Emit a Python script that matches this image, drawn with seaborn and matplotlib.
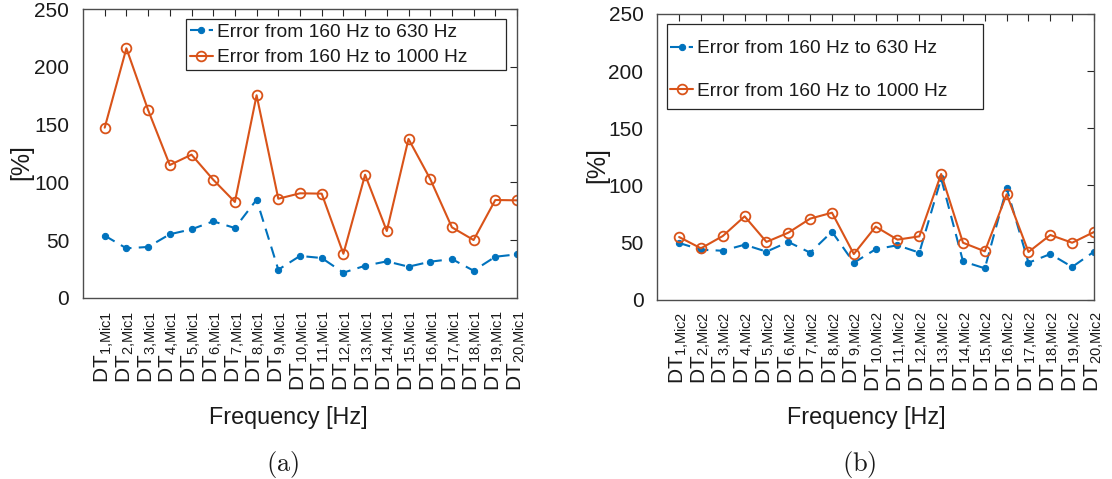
import numpy as np
import pandas as pd
import matplotlib
matplotlib.use("Agg")
import matplotlib.pyplot as plt
from matplotlib.patches import Rectangle
import seaborn as sns

# ---------------- data ----------------
positions = list(range(1, 21))
mic1_labels = [r"$\mathrm{DT}_{\mathrm{%d{,}Mic1}}$" % i for i in positions]
mic2_labels = [r"$\mathrm{DT}_{\mathrm{%d{,}Mic2}}$" % i for i in positions]

err630_mic1 = [53.8, 42.8, 44.0, 55.0, 59.3, 66.2, 60.4, 85.0, 24.3, 36.2,
               34.4, 21.7, 27.7, 31.5, 26.9, 31.2, 33.5, 23.4, 35.5, 37.6]
err1000_mic1 = [147.4, 216.2, 162.7, 115.0, 124.0, 102.3, 83.0, 175.5, 85.8, 90.5,
                90.2, 38.1, 106.6, 57.8, 137.6, 102.9, 61.0, 50.0, 84.7, 84.4]

err630_mic2 = [49.5, 43.6, 42.7, 48.0, 41.9, 50.4, 41.0, 59.4, 32.2, 44.0,
               47.5, 41.0, 106.0, 33.4, 27.3, 97.4, 32.2, 39.8, 28.5, 41.9]
err1000_mic2 = [54.7, 44.8, 55.6, 72.8, 50.4, 58.5, 70.8, 76.0, 39.8, 63.8,
                52.4, 55.3, 109.9, 49.7, 42.2, 92.1, 41.6, 56.5, 49.7, 59.1]

series_names = ["Error from 160 Hz to 630 Hz", "Error from 160 Hz to 1000 Hz"]
yticks = [0, 50, 100, 150, 200, 250]

# ---------------- style ----------------
sns.set_theme(style="white")
plt.rcParams["font.family"] = ["Liberation Sans", "DejaVu Sans"]
plt.rcParams["mathtext.fontset"] = "custom"
plt.rcParams["mathtext.rm"] = "Liberation Sans"
plt.rcParams["mathtext.it"] = "Liberation Sans:italic"
plt.rcParams["mathtext.bf"] = "Liberation Sans:bold"
plt.rcParams["mathtext.sf"] = "Liberation Sans"

BLUE = "#0072BD"
ORANGE = "#D95319"
AXC = "#262626"
TXT = "#1a1a1a"

W, H = 1112, 479
fig = plt.figure(figsize=(W / 100, H / 100), dpi=100)
ax_a = fig.add_axes([83 / W, (H - 297.7) / H, 434 / W, 288.4 / H])
ax_b = fig.add_axes([657.3 / W, (H - 299.5) / H, 436.7 / W, 285.5 / H])


def draw(ax, y630, y1000, labels, legend_kw, xlab_x, ylab_xy, caption, cap_x,
         frame_box=None):
    df = pd.DataFrame({
        "pos": positions * 2,
        "val": list(y630) + list(y1000),
        "series": [series_names[0]] * 20 + [series_names[1]] * 20,
    })
    d1 = df[df.series == series_names[0]]
    d2 = df[df.series == series_names[1]]
    sns.lineplot(data=d1, x="pos", y="val", ax=ax, color=BLUE, lw=1.5,
                 linestyle=(0, (5.5, 3.5)), marker="o", markersize=4.5,
                 markeredgecolor=BLUE, markerfacecolor=BLUE,
                 label=series_names[0])
    sns.lineplot(data=d2, x="pos", y="val", ax=ax, color=ORANGE, lw=1.5,
                 marker="o", markersize=7, markerfacecolor="none",
                 markeredgecolor=ORANGE, markeredgewidth=1.3,
                 label=series_names[1])
    ax.set_xlim(0, 20)
    ax.set_ylim(0, 250)
    ax.set_yticks(yticks)
    ax.set_yticklabels([str(v) for v in yticks])
    ax.set_xticks(positions)
    ax.set_xticklabels(labels, rotation=90, fontsize=15)
    ax.tick_params(axis="both", direction="in", length=5, width=0.8,
                   top=True, right=True, colors=AXC, labelsize=15,
                   labelcolor=TXT)
    ax.tick_params(axis="x", pad=9)
    ax.tick_params(axis="y", pad=10)
    for s in ax.spines.values():
        s.set_visible(True)
        s.set_color("#4d4d4d")
        s.set_linewidth(1.0)
    ax.set_xlabel("Frequency [Hz]", fontsize=16.8, color=TXT)
    ax.xaxis.set_label_coords(xlab_x, -0.415)
    ax.xaxis.label.set_va("center")
    ax.set_ylabel("[%]", fontsize=18, color=TXT)
    ax.yaxis.set_label_coords(*ylab_xy)
    ax.yaxis.label.set_va("center")
    kw = dict(fontsize=13.8, frameon=True, fancybox=False,
              edgecolor=AXC, framealpha=1, handlelength=1.2,
              handletextpad=0.2, borderpad=0.2, borderaxespad=0,
              loc="upper left")
    kw.update(legend_kw)
    leg = ax.legend(**kw)
    leg.get_frame().set_linewidth(0.9)
    for t in leg.get_texts():
        t.set_color(TXT)
    if frame_box is not None:
        x0, y0, w, h = frame_box
        ax.add_patch(Rectangle((x0, y0), w, h, transform=ax.transAxes,
                               facecolor="white", edgecolor=AXC, lw=0.9,
                               zorder=4.9, clip_on=False))
    fig.text(cap_x / W, 1 - 464 / H, r"$\mathrm{(%s)}$" % caption,
             fontsize=19, ha="center", va="center", math_fontfamily="cm",
             color=TXT)


draw(ax_a, err630_mic1, err1000_mic1, mic1_labels,
     dict(bbox_to_anchor=((186 - 83) / 434, 0, 320 / 434, 1 - 10 / 288.4),
          labelspacing=0.43, mode="expand"),
     (288 - 83) / 434, ((21 - 83) / 434, (297.7 - 162) / 288.4), "a", 283)

b_top = 1 - (24.3 - 14) / 285.5
b_bot = 1 - (109 - 14) / 285.5
draw(ax_b, err630_mic2, err1000_mic2, mic2_labels,
     dict(bbox_to_anchor=((666.2 - 657.3) / 436.7, 1 - (36.0 - 14) / 285.5),
          labelspacing=1.3, frameon=False),
     (866.7 - 657.3) / 436.7, ((597 - 657.3) / 436.7, (299.5 - 165) / 285.5),
     "b", 859,
     frame_box=((666.7 - 657.3) / 436.7, b_bot, 316 / 436.7, b_top - b_bot))

fig.savefig("out.png", dpi=100)
